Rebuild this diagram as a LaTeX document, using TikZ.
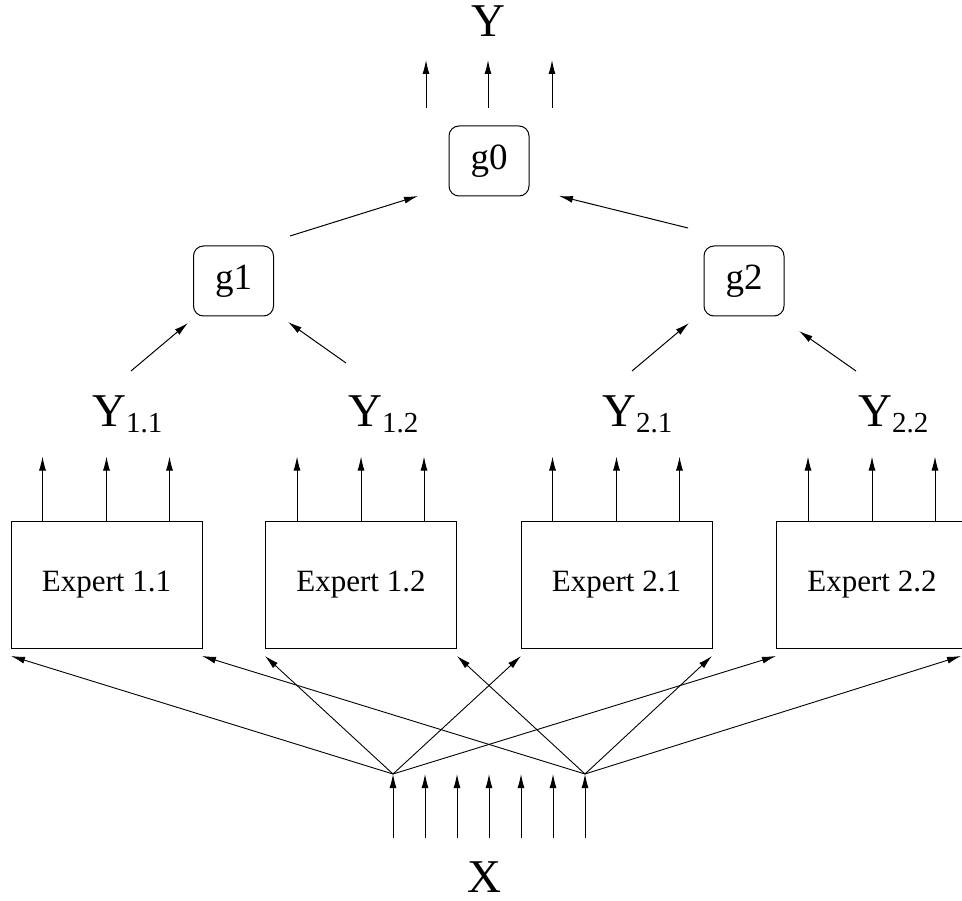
\documentclass[tikz,border=0pt]{standalone}
\usepackage{fontspec}
\setmainfont{Liberation Serif}
\usetikzlibrary{arrows.meta,calc}
\tikzset{
  arr/.style={line width=1pt,-{Latex[length=14pt,width=7pt]}},
  expert/.style={draw,line width=1pt,minimum width=191pt,minimum height=127pt,inner sep=0pt,font=\fontsize{31}{33}\selectfont},
  gate/.style={draw,line width=1pt,rounded corners=10pt,minimum width=80pt,minimum height=70pt,inner sep=0pt,font=\fontsize{37}{39}\selectfont},
  big/.style={inner sep=0pt,font=\fontsize{47}{49}\selectfont},
}
\newcommand{\ysub}[1]{Y\raisebox{-6pt}{\fontsize{29}{31}\selectfont #1}}
\begin{document}
\begin{tikzpicture}[x=1pt,y=-1pt]
\useasboundingbox (0,0) rectangle (962,901);
% top output
\node[big,anchor=base] (Y) at (488,37) {Y};
\node[gate] (g0) at (489,161) {g0};
\foreach \n/\x in {a/426,b/488,c/552}{
  \coordinate (t\n) at (\x,108);
  \coordinate (h\n) at (\x,60);
  \draw[arr] (t\n) -- (h\n);
}
% gates
\node[gate] (g1) at (233.5,281) {g1};
\node[gate] (g2) at (744,281) {g2};
\coordinate (g0ls) at (290,236); \coordinate (g0lt) at (418,196);
\coordinate (g0rs) at (688,228); \coordinate (g0rt) at (559,196);
\draw[arr] (g0ls) -- (g0lt);
\draw[arr] (g0rs) -- (g0rt);
\coordinate (g1ls) at (131,371); \coordinate (g1lt) at (188,323);
\coordinate (g1rs) at (346,363); \coordinate (g1rt) at (288,322);
\coordinate (g2ls) at (632,371); \coordinate (g2lt) at (689,323);
\coordinate (g2rs) at (856,371); \coordinate (g2rt) at (799,331);
\draw[arr] (g1ls) -- (g1lt);
\draw[arr] (g1rs) -- (g1rt);
\draw[arr] (g2ls) -- (g2lt);
\draw[arr] (g2rs) -- (g2rt);
% expert outputs labels
\node[big,anchor=base west] (y11) at (92,427) {\ysub{1.1}};
\node[big,anchor=base west] (y12) at (348,427) {\ysub{1.2}};
\node[big,anchor=base west] (y21) at (602,427) {\ysub{2.1}};
\node[big,anchor=base west] (y22) at (858,427) {\ysub{2.2}};
% experts
\foreach \i/\cx/\t in {11/106.5/1.1,12/361/1.2,21/616.5/2.1,22/872/2.2}{
  \node[expert] (e\i) at (\cx,584.5) {Expert \t};
  \foreach \k/\d in {1/32,2/96,3/159}{
    \coordinate (e\i o\k) at ($(e\i.north west)+(\d,0)$);
    \coordinate (e\i p\k) at ($(e\i.north west)+(\d,-64)$);
    \draw[arr] (e\i o\k) -- (e\i p\k);
  }
}
% input fan
\coordinate (xl) at (393,774);
\coordinate (xr) at (585,774);
\coordinate (i11l) at (11,656);  \coordinate (i11r) at (202,656);
\coordinate (i12l) at (265,656); \coordinate (i12r) at (457,656);
\coordinate (i21l) at (521,656); \coordinate (i21r) at (712,656);
\coordinate (i22l) at (776,656); \coordinate (i22r) at (961,656);
\foreach \b in {11,12,21,22}{
  \draw[line width=0.9pt,-{Latex[length=14pt,width=7pt]}] (xl) -- (i\b l);
  \draw[line width=0.9pt,-{Latex[length=14pt,width=7pt]}] (xr) -- (i\b r);
}
\foreach \k/\x in {1/393,2/425,3/457,4/489,5/521,6/553,7/585}{
  \coordinate (xs\k) at (\x,838);
  \coordinate (xt\k) at (\x,774);
  \draw[arr] (xs\k) -- (xt\k);
}
\node[big,anchor=base] (X) at (484,892) {X};
\end{tikzpicture}
\end{document}
